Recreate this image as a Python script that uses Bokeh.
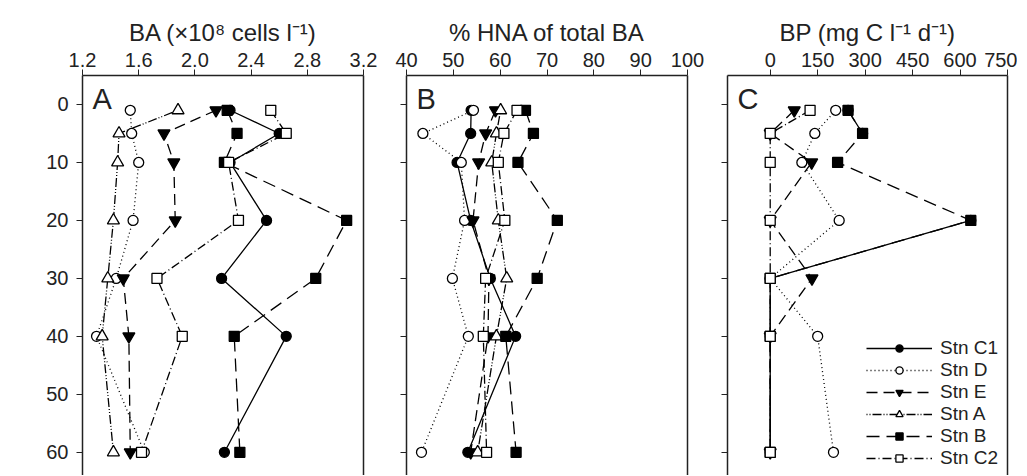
import math
import numpy as np
from bokeh.plotting import figure
from bokeh.layouts import row
from bokeh.models import (Range1d, LinearAxis, FixedTicker, PrintfTickFormatter,
                          Label, Legend, LegendItem, ColumnDataSource)
from bokeh.embed import file_html
from bokeh.resources import INLINE

nan = float("nan")

depth = [1, 5, 10, 20, 30, 40, 60]
stations = ["Stn C1", "Stn D", "Stn E", "Stn A", "Stn B", "Stn C2"]

# Panel A: BA (x10^8 cells l-1)
ba_c1 = [2.25, 2.60, 2.25, 2.51, 2.19, 2.65, 2.21]
ba_d = [1.54, 1.55, 1.60, 1.56, 1.44, 1.30, 1.64]
ba_e = [2.15, 1.78, 1.85, 1.86, 1.49, 1.53, 1.54]
ba_a = [1.88, 1.46, 1.45, 1.42, 1.38, 1.34, 1.42]
ba_b = [2.23, 2.30, 2.21, 3.08, 2.86, 2.28, 2.32]
ba_c2 = [2.54, 2.65, 2.24, 2.31, 1.73, 1.91, 1.62]

# Panel B: % HNA of total BA
hna_c1 = [53.8, 53.7, 50.8, 53.7, 57.9, 63.3, 53.1]
hna_d = [54.3, 43.5, 51.7, 52.4, 49.8, 53.2, 43.2]
hna_e = [59.0, 56.9, 55.4, 54.2, 57.6, 57.4, 53.7]
hna_a = [60.1, 59.2, 58.2, 59.6, 61.4, 59.2, 55.2]
hna_b = [65.4, 67.1, 63.8, 72.2, 67.9, 61.2, 63.4]
hna_c2 = [63.6, 60.8, 59.6, 61.0, 56.9, 56.4, 57.1]

# Panel C: BP (mg C l-1 d-1)
bp_c1 = [246, 292, nan, 634, 0, 0, 0]
bp_d = [207, 141, 100, 218, 0, 150, 200]
bp_e = [76, 0, 131, 0, 132, 0, 0]
bp_a = [nan, nan, nan, nan, nan, nan, nan]
bp_b = [246, 292, 213, 634, 0, 0, 0]
bp_c2 = [126, 0, 0, 0, 0, 0, 0]

ticks_a = [1.2, 1.6, 2.0, 2.4, 2.8, 3.2]
ticks_b = [40, 50, 60, 70, 80, 90, 100]
ticks_c = [0, 150, 300, 450, 600, 750]
ticks_y = [0, 10, 20, 30, 40, 50, 60]

FONT = "Liberation Sans"
INK = "#222222"
styles = {
    "Stn C1": dict(marker="circle", fill="black", dash="solid", size=10),
    "Stn D": dict(marker="circle", fill="white", dash="1 3", size=10),
    "Stn E": dict(marker="inverted_triangle", fill="black", dash="11 6", size=12),
    "Stn A": dict(marker="triangle", fill="white", dash="1 2 1 2 9 2", size=12),
    "Stn B": dict(marker="square", fill="black", dash="13 7", size=10),
    "Stn C2": dict(marker="square", fill="white", dash="9 3 1 3", size=10),
}


def make_panel(series, xr, ticks, fmt, title, letter, frame_w, bl, br, first):
    p = figure(frame_width=frame_w, frame_height=400, x_axis_location="above",
               x_range=Range1d(*xr), y_range=Range1d(64.0, -5.0),
               output_backend="svg", toolbar_location=None,
               min_border_left=bl, min_border_right=br,
               min_border_top=75, min_border_bottom=0)
    p.outline_line_color = None
    p.xgrid.visible = False
    p.ygrid.visible = False
    p.background_fill_color = "white"
    p.border_fill_color = "white"

    xa = p.xaxis[0]
    xa.ticker = FixedTicker(ticks=ticks)
    if fmt:
        xa.formatter = PrintfTickFormatter(format=fmt)
    xa.axis_label = title
    xa.axis_label_text_font = FONT
    xa.axis_label_text_font_size = "24px"
    xa.axis_label_text_font_style = "normal"
    xa.axis_label_text_color = INK
    xa.axis_label_standoff = 4
    ya = p.yaxis[0]
    ya.ticker = FixedTicker(ticks=ticks_y)
    for ax in (xa, ya):
        ax.major_label_text_font = FONT
        ax.major_label_text_font_size = "20px"
        ax.major_tick_out = 6
        ax.major_tick_in = 0
        ax.minor_tick_line_color = None
        ax.axis_line_width = 1.5
        ax.axis_line_color = INK
        ax.major_tick_line_color = INK
        ax.major_label_text_color = INK
    xa.major_label_standoff = 3
    if first:
        ya.major_label_standoff = 8
        p.add_layout(Label(x=-52, y=220, x_units="screen", y_units="screen",
                           text="Depth (m)", angle=math.pi / 2, text_align="center",
                           text_baseline="middle", text_font=FONT,
                           text_font_size="21px", text_color=INK))
    else:
        ya.major_label_overrides = {t: "" for t in ticks_y}
        ya.major_label_standoff = 0

    ra = LinearAxis(ticker=FixedTicker(ticks=[]),
                    major_tick_line_color=None, minor_tick_line_color=None,
                    axis_line_width=1.5, axis_line_color=INK)
    p.add_layout(ra, "right")

    lines, marks = {}, {}
    for name, vals in zip(stations, series):
        st = styles[name]
        src = ColumnDataSource(dict(x=np.array(vals, dtype=float), y=np.array(depth, dtype=float)))
        lines[name] = p.line("x", "y", source=src, line_color="black", line_width=1.3,
                             line_dash=st["dash"])
    for name, vals in zip(stations, series):
        st = styles[name]
        src = ColumnDataSource(dict(x=np.array(vals, dtype=float), y=np.array(depth, dtype=float)))
        marks[name] = p.scatter("x", "y", source=src, marker=st["marker"], size=st["size"],
                                line_color="black", line_width=1.3, fill_color=st["fill"])

    p.add_layout(Label(x=10, y=377, x_units="screen", y_units="screen", text=letter,
                       text_font=FONT, text_font_size="29px", text_color=INK,
                       text_baseline="alphabetic"))
    return p, lines, marks


pA, _, _ = make_panel([ba_c1, ba_d, ba_e, ba_a, ba_b, ba_c2], (1.2, 3.2), ticks_a, "%.1f",
                      "BA (×10⁸ cells l⁻¹)", "A", 281, 82, 17, True)
pB, _, _ = make_panel([hna_c1, hna_d, hna_e, hna_a, hna_b, hna_c2], (40, 100), ticks_b, None,
                      "% HNA of total BA", "B", 281, 26, 20, False)
pC, lc, mc = make_panel([bp_c1, bp_d, bp_e, bp_a, bp_b, bp_c2], (-135, 750), ticks_c, None,
                        "BP (mg C l⁻¹ d⁻¹)", "C", 280, 20, 10, False)

items = [LegendItem(label=n, renderers=[lc[n], mc[n]]) for n in stations]
leg = Legend(items=items, location=(139, 6), orientation="vertical",
             glyph_width=66, glyph_height=18, label_height=18, spacing=0,
             label_standoff=8, padding=0, margin=0,
             label_text_font=FONT, label_text_font_size="19px", label_text_color=INK,
             border_line_color=None, background_fill_alpha=0)
pC.add_layout(leg)

layout = row(pA, pB, pC)
open("out.html", "w").write(file_html(layout, INLINE))
